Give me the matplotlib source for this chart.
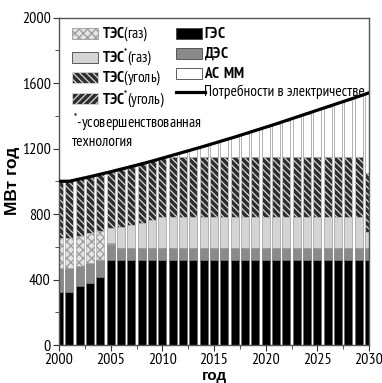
import numpy as np
import matplotlib
matplotlib.use("Agg")
import matplotlib.pyplot as plt
import matplotlib.font_manager as fm
from matplotlib.patches import Rectangle

# narrow sans with Cyrillic if one is available
installed = {f.name for f in fm.fontManager.ttflist}
narrow = next((n for n in ["PT Sans Narrow", "Roboto Condensed", "Archivo Narrow",
                           "Fira Sans Condensed", "Liberation Sans"] if n in installed), "DejaVu Sans")

plt.rcParams["font.family"] = [narrow, "DejaVu Sans"]
plt.rcParams["mathtext.fontset"] = "custom"
plt.rcParams["mathtext.rm"] = narrow
plt.rcParams["mathtext.bf"] = narrow + ":bold"
plt.rcParams["hatch.linewidth"] = 0.9

years = np.arange(2000, 2031)

# generation by source, MW*year (stack segments)
ges = [325, 325, 362, 377, 417, 520, 520, 520, 520, 520, 520, 520, 520, 520, 520, 520,
       520, 520, 520, 520, 520, 520, 520, 520, 520, 520, 520, 520, 520, 520, 520]
des = [143, 145, 122, 122, 102, 97, 75, 75, 75, 75, 75, 75, 75, 75, 75, 75,
       75, 75, 75, 75, 75, 75, 75, 75, 75, 75, 75, 75, 75, 75, 75]
tes_gas = [184, 185, 184, 183, 179, 6, 0, 0, 0, 0, 0, 0, 0, 0, 0, 0,
           0, 0, 0, 0, 0, 0, 0, 0, 0, 0, 0, 0, 0, 0, 0]
tes_gas_new = [0, 0, 0, 0, 0, 89, 124, 138, 152, 168, 185, 185, 185, 185, 185, 185,
               185, 185, 185, 185, 185, 185, 185, 185, 185, 185, 185, 185, 185, 185, 97]
tes_coal = [348, 345, 346, 346, 345, 346, 355, 357, 359, 360, 361, 366, 366, 366, 366, 366,
            366, 366, 366, 366, 366, 366, 366, 366, 366, 366, 366, 366, 366, 366, 356]
as_mm = [0, 0, 0, 0, 0, 0, 0, 0, 0, 0, 0, 13, 31, 49, 67, 86,
         105, 124, 144, 164, 184, 204, 225, 246, 267, 288, 309, 330, 351, 372, 492]
demand = [1000, 1000, 1014, 1028, 1043, 1058, 1074, 1090, 1106, 1123, 1141, 1159, 1177, 1195, 1213, 1232,
          1251, 1270, 1290, 1310, 1330, 1350, 1371, 1392, 1413, 1434, 1455, 1476, 1497, 1518, 1540]

styles = {
    "ges": dict(facecolor="black", edgecolor="#666666", hatch=None),
    "des": dict(facecolor="#8a8a8a", edgecolor="#666666", hatch=None),
    "gas": dict(facecolor="#e4e4e4", edgecolor="#9a9a9a", hatch="xxxx"),
    "gas_new": dict(facecolor="#d4d4d4", edgecolor="#888888", hatch=None),
    "coal": dict(facecolor="#2e2e2e", edgecolor="#d8d8d8", hatch="\\\\\\\\\\"),
    "coal_new": dict(facecolor="#2e2e2e", edgecolor="#d8d8d8", hatch="/////"),
    "asmm": dict(facecolor="white", edgecolor="#777777", hatch=None),
}

fig = plt.figure(figsize=(3.82, 3.83), dpi=100)
ax = fig.add_axes([0.1545, 0.0992, 0.8115, 0.8551])

bottom = np.zeros(len(years))
for vals, key in [(ges, "ges"), (des, "des"), (tes_gas, "gas"), (tes_gas_new, "gas_new"),
                  (tes_coal, "coal"), (as_mm, "asmm")]:
    st = styles[key]
    ax.bar(years, vals, width=0.75, bottom=bottom, facecolor=st["facecolor"],
           edgecolor=st["edgecolor"], hatch=st["hatch"], linewidth=0.4)
    bottom += np.array(vals)

ax.plot(years, demand, color="black", linewidth=2.3, zorder=5)

ax.set_xlim(2000, 2030)
ax.set_ylim(0, 2000)
ax.set_xticks(np.arange(2000, 2031, 5))
ax.set_xticks(np.arange(2002.5, 2030, 5), minor=True)
ax.set_yticks(np.arange(0, 2001, 400))
ax.set_yticks(np.arange(200, 2000, 400), minor=True)
ax.tick_params(which="both", direction="out", top=False, right=False, labelsize=11.5,
               color="#333333", pad=2)
ax.tick_params(which="major", length=4)
ax.tick_params(which="minor", length=3)
for sp in ax.spines.values():
    sp.set_color("#555555")
    sp.set_linewidth(1.0)

ax.set_ylabel("МВт год", fontsize=12.5, fontweight="bold", family=["Liberation Sans", "DejaVu Sans"])
ax.yaxis.set_label_coords(-0.125, 0.5)
ax.set_xlabel("год", fontsize=11, fontweight="bold", family=["Liberation Sans", "DejaVu Sans"])
ax.xaxis.set_label_coords(0.5, -0.074)

# legend drawn by hand: swatch box + label, positions in axes fractions
def swatch(x, y, key):
    st = styles[key]
    ax.add_patch(Rectangle((x, y - 0.017), 0.083, 0.034, transform=ax.transAxes,
                           facecolor=st["facecolor"],
                           edgecolor=st["edgecolor"] if st["hatch"] else "#444444",
                           hatch=st["hatch"], linewidth=0.6, clip_on=False, zorder=6))

left_items = [("gas", r"$\mathbf{ТЭС}$(газ)", 0.952),
              ("gas_new", r"$\mathbf{ТЭС}^{*}$(газ)", 0.879),
              ("coal", r"$\mathbf{ТЭС}$(уголь)", 0.817),
              ("coal_new", r"$\mathbf{ТЭС}^{*}$(уголь)", 0.752)]
for key, label, y in left_items:
    swatch(0.042, y, key)
    ax.text(0.140, y, label, transform=ax.transAxes, fontsize=11, va="center", ha="left", zorder=6)

right_items = [("ges", r"$\mathbf{ГЭС}$", 0.950),
               ("des", r"$\mathbf{ДЭС}$", 0.889),
               ("asmm", r"$\mathbf{АС\ ММ}$", 0.830)]
for key, label, y in right_items:
    swatch(0.377, y, key)
    ax.text(0.468, y, label, transform=ax.transAxes, fontsize=11, va="center", ha="left", zorder=6)

ax.plot([0.377, 0.470], [0.772, 0.772], transform=ax.transAxes, color="black",
        linewidth=2.3, clip_on=False, zorder=6)
ax.text(0.468, 0.772, "Потребности в электричестве", transform=ax.transAxes,
        fontsize=11, va="center", ha="left", zorder=6)

ax.text(0.045, 0.680, r"$^{*}$-усовершенствованная", transform=ax.transAxes,
        fontsize=11, va="center", ha="left")
ax.text(0.042, 0.620, "технология", transform=ax.transAxes,
        fontsize=11, va="center", ha="left")

fig.savefig("out.png", dpi=100)
